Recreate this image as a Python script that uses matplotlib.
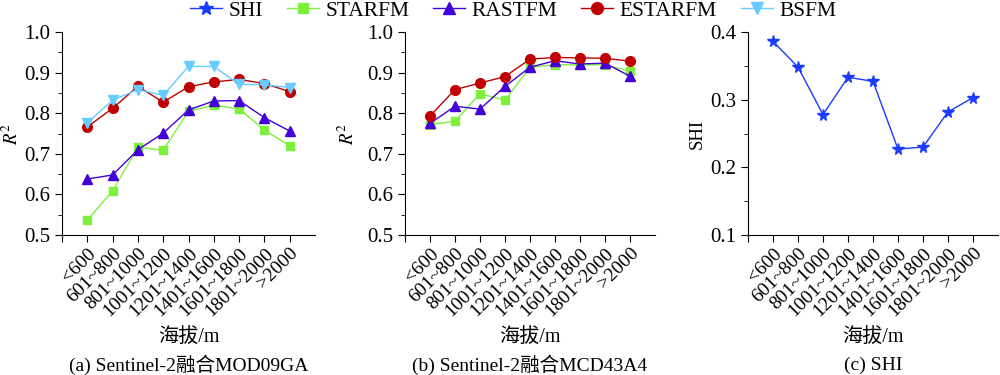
import numpy as np
import matplotlib
matplotlib.use("Agg")
from matplotlib import pyplot as plt
from matplotlib.ticker import MultipleLocator
from matplotlib.lines import Line2D

plt.rcParams['font.family'] = ['Liberation Serif', 'Noto Sans CJK SC']
plt.rcParams['mathtext.fontset'] = 'stix'

# Classes d'altitude
altitudes = ['<600', '601~800', '801~1000', '1001~1200', '1201~1400',
             '1401~1600', '1601~1800', '1801~2000', '>2000']

# (a) Sentinel-2 + MOD09GA
starfm_a = [0.537, 0.609, 0.716, 0.709, 0.805, 0.819, 0.811, 0.758, 0.720]
rastfm_a = [0.638, 0.648, 0.710, 0.751, 0.808, 0.830, 0.831, 0.789, 0.756]
estarfm_a = [0.766, 0.812, 0.866, 0.827, 0.865, 0.877, 0.883, 0.873, 0.853]
bsfm_a = [0.776, 0.832, 0.858, 0.844, 0.915, 0.915, 0.871, 0.870, 0.863]

# (b) Sentinel-2 + MCD43A4
starfm_b = [0.772, 0.780, 0.848, 0.832, 0.913, 0.919, 0.919, 0.919, 0.903]
rastfm_b = [0.775, 0.817, 0.810, 0.866, 0.913, 0.929, 0.921, 0.923, 0.891]
estarfm_b = [0.793, 0.858, 0.874, 0.890, 0.933, 0.937, 0.936, 0.935, 0.928]

# (c) SHI
shi = [0.386, 0.348, 0.278, 0.333, 0.327, 0.227, 0.230, 0.282, 0.303]

c_shi = '#1a3cff'
c_star = '#7ef03c'
c_rast = '#4400d8'
c_est = '#c00000'
c_bsfm = '#66ccff'

fig = plt.figure(figsize=(10, 3.75), dpi=100)
ax_a = fig.add_axes([0.062, 0.373, 0.253, 0.542])
ax_b = fig.add_axes([0.405, 0.373, 0.25, 0.542])
ax_c = fig.add_axes([0.748, 0.373, 0.25, 0.542])

x = np.arange(1, len(altitudes) + 1)
lw = 1.0

def style(ax, ylim, ylabel, caption, ylab_x):
    ax.set_xlim(0, 10)
    ax.set_ylim(*ylim)
    ax.spines['top'].set_visible(False)
    ax.spines['right'].set_visible(False)
    ax.set_xticks(np.arange(0, 10))
    ax.set_xticklabels([''] + altitudes, rotation=45, ha='right',
                       rotation_mode='anchor', fontsize=14)
    ax.yaxis.set_major_locator(MultipleLocator(0.1))
    ax.yaxis.set_minor_locator(MultipleLocator(0.05))
    ax.tick_params(axis='y', which='major', labelsize=15, length=5, direction='out')
    ax.tick_params(axis='y', which='minor', length=3, direction='out')
    ax.tick_params(axis='x', length=5, direction='out', pad=2)
    ax.set_ylabel(ylabel, fontsize=13.5)
    ax.yaxis.set_label_coords(ylab_x, 0.5)
    ax.set_xlabel('海拔/m', fontsize=14.5)
    ax.xaxis.set_label_coords(0.5, -0.455)
    ax.text(0.5, -0.64, caption, transform=ax.transAxes, ha='center',
            va='center', fontsize=14)

ax_a.plot(x, starfm_a, '-s', color=c_star, lw=lw, ms=6)
ax_a.plot(x, rastfm_a, '-^', color=c_rast, lw=lw, ms=7.5)
ax_a.plot(x, estarfm_a, '-o', color=c_est, lw=lw, ms=7)
ax_a.plot(x, bsfm_a, '-v', color=c_bsfm, lw=lw, ms=7.5)
style(ax_a, (0.5, 1.0), '$R^2$', '(a) Sentinel-2融合MOD09GA', -0.16)
ax_a.set_yticks([0.5, 0.6, 0.7, 0.8, 0.9, 1.0])
ax_a.set_yticklabels(['0.5', '0.6', '0.7', '0.8', '0.9', '1.0'])

ax_b.plot(x, starfm_b, '-s', color=c_star, lw=lw, ms=6)
ax_b.plot(x, rastfm_b, '-^', color=c_rast, lw=lw, ms=7.5)
ax_b.plot(x, estarfm_b, '-o', color=c_est, lw=lw, ms=7)
style(ax_b, (0.5, 1.0), '$R^2$', '(b) Sentinel-2融合MCD43A4', -0.19)
ax_b.set_yticks([0.5, 0.6, 0.7, 0.8, 0.9, 1.0])
ax_b.set_yticklabels(['0.5', '0.6', '0.7', '0.8', '0.9', '1.0'])

ax_c.plot(x, shi, '-*', color=c_shi, lw=lw, ms=8.5)
style(ax_c, (0.1, 0.4), 'SHI', '(c) SHI', -0.17)
ax_c.set_yticks([0.1, 0.2, 0.3, 0.4])
ax_c.set_yticklabels(['0.1', '0.2', '0.3', '0.4'])

handles = [
    Line2D([], [], color=c_shi, marker='*', lw=lw, ms=10),
    Line2D([], [], color=c_star, marker='s', lw=lw, ms=7.5),
    Line2D([], [], color=c_rast, marker='^', lw=lw, ms=9),
    Line2D([], [], color=c_est, marker='o', lw=lw, ms=8.5),
    Line2D([], [], color=c_bsfm, marker='v', lw=lw, ms=9),
]
labels = ['SHI', 'STARFM', 'RASTFM', 'ESTARFM', 'BSFM']
fig.legend(handles, labels, loc='center', bbox_to_anchor=(0.513, 0.972),
           ncol=5, frameon=False, fontsize=15.5, handlelength=1.5,
           columnspacing=1.1, handletextpad=0.3)

fig.savefig('out.png', dpi=100)
